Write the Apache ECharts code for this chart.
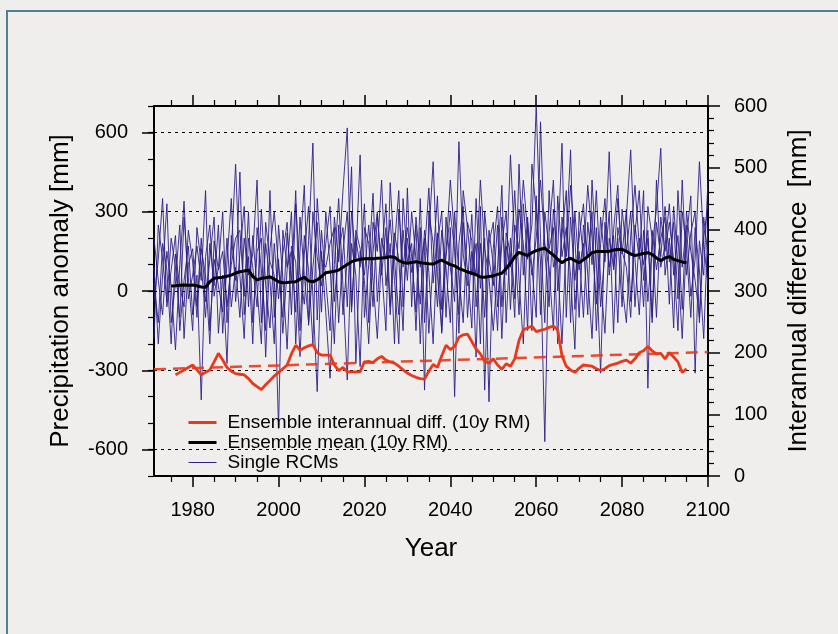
<!DOCTYPE html>
<html>
<head>
<meta charset="utf-8">
<script src="https://cdn.jsdelivr.net/npm/echarts@6/dist/echarts.min.js"></script>
<style>
  html, body { margin: 0; padding: 0; background: #efeeec; }
  #chart { width: 838px; height: 634px; }
</style>
</head>
<body>
<div id="chart"></div>
<script>
// ---------------- DATA ----------------
const rcmStartYear = 1971;
const meanStartYear = 1975;
const diffStartYear = 1976;

const xMajorTicks = [1980, 2000, 2020, 2040, 2060, 2080, 2100];
const xMinorTicks = [1975, 1985, 1990, 1995, 2005, 2010, 2015, 2025, 2030, 2035, 2045, 2050, 2055, 2065, 2070, 2075, 2085, 2090, 2095];
const yLeftLabels = [-600, -300, 0, 300, 600];
const yRightLabels = [0, 100, 200, 300, 400, 500, 600];

// Single RCMs, annual precipitation anomaly [mm], 1971-2100
const rcm1 = [
  -40, 120, 350, -60, 80, 210, -150, 40, 170, -90,
  60, -412, 130, 250, -20, 90, 300, -120, 150, 480,
  60, -180, 200, 90, -60, 310, 20, -140, 180, -30,
  140, 260, -90, 330, 70, -50, 190, 560, -110, 230,
  40, -150, 280, 110, 380, 617, -60, 200, 90, 330,
  -120, 260, 150, 420, 20, 180, -200, 310, 90, 240,
  130, -80, 350, -120, 210, 489, 60, -150, 280, 90,
  -40, 565, 140, 20, 290, -60, 180, -100, 230, 100,
  -150, 280, 60, 515, 180, -90, 330, 120, 250, 700,
  200, -120, 380, 90, 150, 559, -100, 280, 40, 200,
  330, 60, -180, 240, -60, 150, 527, 80, 200, -60,
  280, 534, 120, -90, 230, -40, 170, 310, 540, 60,
  200, -140, 380, 90, 250, -20, 120, 489, 180, 20
];
const rcm2 = [
  90, -200, 60, 330, -120, 30, 250, -180, 100, 160,
  -60, 200, -40, 120, 280, -160, 60, -274, 210, 40,
  450, -90, 130, -200, 240, 80, -150, 380, -100, 120,
  -160, 80, 300, -200, 150, 400, -130, 90, 260, -80,
  300, 90, -200, 250, -90, 120, 470, -274, 150, 60,
  250, 40, -180, 140, 330, -60, 220, 120, -150, 390,
  -60, 280, 90, 200, -160, 120, 360, -70, 150, 420,
  200, -160, 260, 80, -140, 350, 10, 200, -419, 160,
  320, -60, 170, 90, 380, 40, -200, 260, 90, -100,
  640, 150, -60, 310, 100, -200, 200, 534, -70, 150,
  -100, 260, 100, 380, 40, -160, 200, 90, 350, 150,
  90, -100, 250, 120, 380, -368, 230, 80, 200, 280,
  -50, 320, 100, -180, 200, 360, -311, 190, 60, 420
];
const rcm3 = [
  200, 40, -90, 150, 20, -223, 100, 340, -30, 60,
  170, 40, 380, -150, 120, 20, -80, 200, -60, 90,
  -100, 200, 60, 140, 420, -120, 180, 40, -200, 250,
  50, -220, 170, 110, -248, 140, 320, -20, -381, 150,
  -80, -330, 100, 350, 20, -337, 180, 60, -286, 240,
  180, -60, 290, 90, -150, 410, 120, -90, 230, 40,
  300, 120, -50, 230, 70, -200, 180, 300, -100, 240,
  -400, 180, 320, -100, 150, 60, 420, 160, 50, -150,
  90, 400, -120, 200, -30, 310, 180, -150, 480, 300,
  110, -570, 220, 420, 0, 210, 380, -120, 300, 80,
  180, -90, 420, 110, -311, 260, 90, 210, -120, 310,
  150, 300, -60, 200, 100, 230, -120, 420, 90, 170,
  330, 60, 210, -70, 300, 150, 40, -100, 280, 130
];
const rcm4 = [
  -180, 250, 120, -40, 200, 90, -100, 280, 50, -150,
  240, 100, -100, 180, 20, 250, -160, 110, 350, -40,
  140, 320, -60, 210, 10, -200, 260, 110, 60, -520,
  230, 90, 150, -80, 280, 60, -120, 300, 130, 20,
  180, 320, -40, 150, 240, -60, 300, 120, 515, -100,
  100, 370, -40, 200, 120, 270, 40, -200, 350, 110,
  180, -150, 240, -375, 300, 180, -60, 230, 90, -120,
  300, 60, -120, 260, 190, -250, 320, -375, 180, 260,
  -60, 180, 300, -70, 250, 160, 420, 220, 60, 200,
  420, 180, 90, -150, 360, 130, 240, 60, -220, 300,
  120, 400, 200, -50, 280, 110, 300, -160, 240, 140,
  310, -40, 220, 380, 40, 200, -100, 260, 130, 320,
  110, 260, -30, 420, 60, 220, 300, -120, 200, 330
];
const rcm5 = [
  30, -120, 180, 80, -200, 140, 20, -60, 230, 110,
  -100, 160, 60, -200, 190, 80, 150, -60, 100, 200,
  230, -20, 300, -120, 150, 200, -250, 160, 300, 90,
  -100, 220, 40, 380, -150, 210, 80, -200, 350, 120,
  90, 180, 240, -120, 150, 300, -80, 230, 160, 40,
  -200, 150, 300, 60, 240, -90, 170, 380, -60, 200,
  70, 250, -200, 150, 390, 30, 220, -160, 130, 300,
  150, -90, 380, 240, 60, 180, -200, 300, 120, 20,
  250, -180, 220, 140, -100, 480, 60, 280, -150, 360,
  -90, 300, 160, 240, -200, 280, 130, 400, 200, -100,
  250, 130, 300, -150, 180, 350, 60, 230, 400, 20,
  -120, 210, 400, 170, -60, 320, 200, -100, 280, 150,
  260, 120, -150, 300, 160, -100, 240, 80, -180, 250
];

// Ensemble mean (10y running mean), 1975-2095
const meanVals = [
  19, 20, 22, 23, 22, 23,
  20, 15, 14, 35, 48, 50, 52, 56, 60, 68,
  73, 76, 79, 55, 42, 48, 50, 54, 45, 35,
  31, 32, 34, 35, 45, 52, 38, 35, 42, 55,
  69, 72, 75, 79, 90, 100, 111, 116, 120, 122,
  123, 122, 124, 125, 127, 130, 128, 115, 108, 105,
  108, 111, 107, 105, 103, 102, 110, 117, 108, 100,
  95, 85, 79, 72, 67, 62, 53, 52, 55, 57,
  63, 67, 85, 105, 130, 146, 140, 134, 145, 153,
  158, 162, 148, 136, 120, 107, 118, 124, 115, 107,
  118, 130, 145, 149, 149, 149, 150, 155, 157, 158,
  150, 140, 134, 138, 142, 145, 138, 125, 115, 125,
  130, 120, 115, 110, 107
];

// Ensemble interannual difference (10y running mean), 1976-2095, right axis
const diffVals = [
  164, 168, 172, 176, 180,
  172, 164, 168, 172, 185, 199, 188, 176, 170, 166,
  165, 164, 158, 150, 145, 140, 148, 155, 162, 168,
  174, 180, 198, 212, 204, 208, 211, 213, 200, 196,
  196, 196, 180, 171, 176, 169, 169, 169, 169, 185,
  186, 184, 190, 194, 188, 185, 183, 178, 172, 167,
  163, 160, 158, 157, 170, 181, 176, 195, 212, 205,
  210, 225, 229, 230, 218, 206, 198, 186, 183, 190,
  180, 173, 182, 178, 190, 220, 237, 240, 243, 234,
  236, 238, 241, 243, 237, 195, 178, 172, 168, 175,
  180, 179, 178, 174, 171, 174, 179, 181, 183, 186,
  188, 183, 190, 200, 203, 210, 203, 198, 199, 190,
  200, 193, 185, 168, 174
];

// Linear trend of the interannual difference (endpoints)
const trendYears = [1971, 2100];
const trendVals = [173, 201];

// ---------------- CHART ----------------
const FONT = "'Liberation Sans', Arial, Helvetica, sans-serif";
const BLUE = '#2e1f86';
const RED = '#e8391d';
const pairs = (start, vals) => vals.map((v, i) => [start + i, v]);
const plain = v => String(v);

const rcmSets = [rcm1, rcm2, rcm3, rcm4, rcm5];
const rcmSeries = rcmSets.map(vals => ({
  name: 'Single RCMs',
  type: 'line',
  xAxisIndex: 0,
  yAxisIndex: 0,
  data: pairs(rcmStartYear, vals),
  symbol: 'none',
  lineStyle: { color: BLUE, width: 0.9 },
  itemStyle: { color: BLUE },
  z: 2,
  silent: true
}));

const gridSeries = {
  name: 'grid',
  type: 'line',
  xAxisIndex: 0,
  yAxisIndex: 0,
  data: [],
  symbol: 'none',
  z: 3,
  silent: true,
  markLine: {
    symbol: 'none',
    silent: true,
    label: { show: false },
    lineStyle: { color: '#000', width: 1, type: [3, 4] },
    data: yLeftLabels.map(v => ({ yAxis: v }))
  }
};

const axisLineStyle = { color: '#000', width: 2 };
const labelStyle = { color: '#000', fontSize: 20, fontFamily: FONT, formatter: plain };
const nameStyle = { color: '#000', fontSize: 26, fontFamily: FONT };

const option = {
  backgroundColor: '#efeeec',
  animation: false,
  grid: { left: 154, top: 106, width: 554, height: 370, containLabel: false },
  graphic: [{
    type: 'rect',
    shape: { x: 7, y: 11, width: 900, height: 700 },
    style: { fill: 'none', stroke: '#4f8093', lineWidth: 2 },
    z: -1, silent: true
  }],
  legend: {
    data: [
      { name: 'Ensemble interannual diff. (10y RM)', lineStyle: { width: 3 } },
      { name: 'Ensemble mean (10y RM)', lineStyle: { width: 3 } },
      { name: 'Single RCMs', lineStyle: { width: 1 } }
    ],
    orient: 'vertical',
    left: 187, top: 413,
    padding: 0,
    itemWidth: 28, itemHeight: 12, itemGap: 1,
    selectedMode: false,
    itemStyle: { opacity: 0 },
    textStyle: { color: '#000', fontSize: 19, fontFamily: FONT, padding: [0, 0, 0, 6] }
  },
  xAxis: [
    {
      type: 'value', position: 'bottom', min: 1971, max: 2100,
      axisLine: { show: true, onZero: false, lineStyle: axisLineStyle },
      axisTick: { show: true, inside: false, length: 11, customValues: xMajorTicks, lineStyle: { color: '#000', width: 1.5 } },
      axisLabel: { show: true, customValues: xMajorTicks, margin: 24, ...labelStyle },
      splitLine: { show: false },
      name: 'Year', nameLocation: 'middle', nameGap: 60, nameTextStyle: nameStyle
    },
    {
      type: 'value', position: 'bottom', min: 1971, max: 2100,
      axisLine: { show: false, onZero: false },
      axisTick: { show: true, inside: false, length: 6, customValues: xMinorTicks, lineStyle: { color: '#000', width: 1.2 } },
      axisLabel: { show: false }, splitLine: { show: false }
    },
    {
      type: 'value', position: 'top', min: 1971, max: 2100,
      axisLine: { show: true, onZero: false, lineStyle: axisLineStyle },
      axisTick: { show: true, inside: false, length: 11, customValues: xMajorTicks, lineStyle: { color: '#000', width: 1.5 } },
      axisLabel: { show: false }, splitLine: { show: false }
    },
    {
      type: 'value', position: 'top', min: 1971, max: 2100,
      axisLine: { show: false, onZero: false },
      axisTick: { show: true, inside: false, length: 6, customValues: xMinorTicks, lineStyle: { color: '#000', width: 1.2 } },
      axisLabel: { show: false }, splitLine: { show: false }
    }
  ],
  yAxis: [
    {
      type: 'value', position: 'left', min: -700, max: 700, interval: 100,
      axisLine: { show: true, onZero: false, lineStyle: axisLineStyle },
      axisTick: { show: true, inside: false, length: 6, lineStyle: { color: '#000', width: 1.2 } },
      axisLabel: { show: true, customValues: yLeftLabels, margin: 26, ...labelStyle },
      splitLine: { show: false },
      name: 'Precipitation anomaly [mm]', nameLocation: 'middle', nameGap: 80, nameTextStyle: nameStyle
    },
    {
      type: 'value', position: 'right', min: 0, max: 600, interval: 100,
      axisLine: { show: true, onZero: false, lineStyle: axisLineStyle },
      axisTick: { show: true, inside: false, length: 12, lineStyle: { color: '#000', width: 1.5 } },
      minorTick: { show: true, splitNumber: 5, length: 6, lineStyle: { color: '#000', width: 1.2 } },
      axisLabel: { show: true, customValues: yRightLabels, margin: 26, ...labelStyle },
      splitLine: { show: false },
      name: 'Interannual difference  [mm]', nameLocation: 'middle', nameGap: 78, nameTextStyle: nameStyle
    },
    {
      type: 'value', position: 'left', min: -700, max: 700,
      axisLine: { show: false, onZero: false },
      axisTick: { show: true, inside: false, length: 12, customValues: yLeftLabels, lineStyle: { color: '#000', width: 1.5 } },
      axisLabel: { show: false }, splitLine: { show: false }
    }
  ],
  series: [
    ...rcmSeries,
    gridSeries,
    {
      name: 'Ensemble mean (10y RM)',
      type: 'line', xAxisIndex: 0, yAxisIndex: 0,
      data: pairs(meanStartYear, meanVals),
      symbol: 'none',
      lineStyle: { color: '#000', width: 3 },
      itemStyle: { color: '#000' },
      z: 4, silent: true
    },
    {
      name: 'trend',
      type: 'line', xAxisIndex: 0, yAxisIndex: 1,
      data: trendYears.map((y, i) => [y, trendVals[i]]),
      symbol: 'none',
      lineStyle: { color: RED, width: 2.5, type: [12, 7], opacity: 0.9 },
      itemStyle: { color: RED },
      z: 5, silent: true
    },
    {
      name: 'Ensemble interannual diff. (10y RM)',
      type: 'line', xAxisIndex: 0, yAxisIndex: 1,
      data: pairs(diffStartYear, diffVals),
      symbol: 'none',
      lineStyle: { color: RED, width: 2.8 },
      itemStyle: { color: RED },
      z: 6, silent: true
    }
  ]
};

const chart = echarts.init(document.getElementById('chart'), null, { renderer: 'canvas' });
chart.setOption(option);
</script>
</body>
</html>
